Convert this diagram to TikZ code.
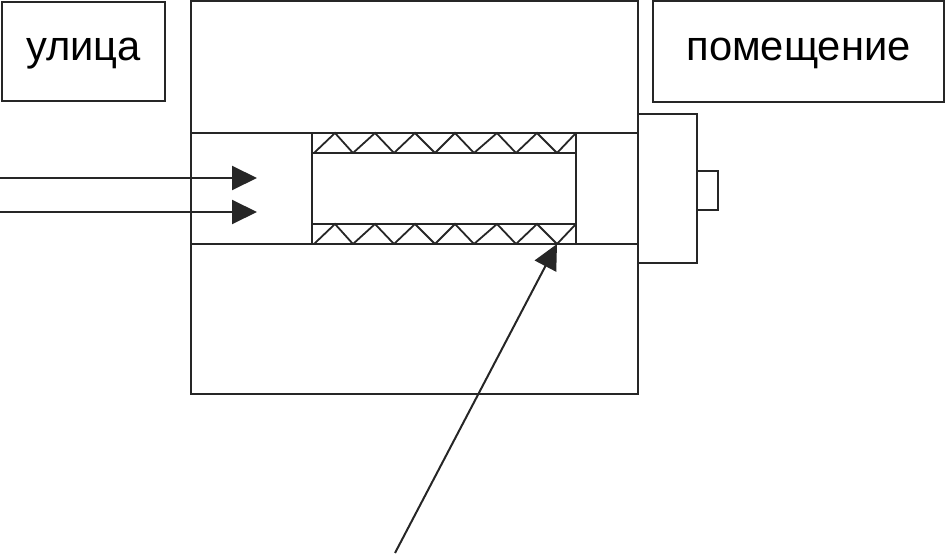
\documentclass[tikz,border=0pt]{standalone}
\usepackage{fontspec}
\setmainfont{Liberation Sans}
\usetikzlibrary{arrows.meta}
\tikzset{
  part/.style={draw=black!85, line width=2pt, anchor=north west, inner sep=0pt, outer sep=0pt},
  label/.style={part, font=\fontsize{41.7}{42}\selectfont, text height=28pt, text depth=9pt},
  flow/.style={draw=black!85, line width=2pt, -{Triangle[length=25pt, width=24pt]}}
}

\begin{document}
\begin{tikzpicture}[x=1pt, y=-1pt]
  \useasboundingbox (0,0) rectangle (946,556);
  \node[label, minimum width=163pt, minimum height=99pt] (street) at (2,2) {улица};
  \node[label, minimum width=291pt, minimum height=101pt] (room) at (653,1) {помещение};
  \node[part, minimum width=447pt, minimum height=392.5pt] (wall) at (191,1.5) {};
  \node[part, minimum width=447pt, minimum height=111pt] (channel) at (191,133) {};
  \node[part, minimum width=59pt, minimum height=149pt] (valve) at (638,114) {};
  \node[part, minimum width=21pt, minimum height=39pt] (knob) at (697,171) {};
  \node[part, line width=2.5pt, minimum width=264pt, minimum height=111pt] (insulation) at (312,133) {};
  \node[part, minimum width=264pt, minimum height=71pt] (duct) at (312,153) {};
  % zigzag filling
  \foreach \ytop/\ybot in {133/153, 224/244}
    \foreach \xp/\xl/\xr in {335/314/353, 375/353/394, 415/394/435, 455/435/474, 497/474/516, 537/516/557, 576/557/557}
      \draw[draw=black!85, line width=1.8pt] (\xl,\ybot) -- (\xp,\ytop) -- (\xr,\ybot);
  % arrows
  \coordinate (in1) at (0,178);
  \coordinate (in2) at (0,212);
  \coordinate (tip1) at (257,178);
  \coordinate (tip2) at (257,212);
  \coordinate (pointer) at (395,553);
  \coordinate (target) at (557,244);
  \draw[flow] (in1) -- (tip1);
  \draw[flow] (in2) -- (tip2);
  \draw[flow] (pointer) -- (target);
\end{tikzpicture}
\end{document}
